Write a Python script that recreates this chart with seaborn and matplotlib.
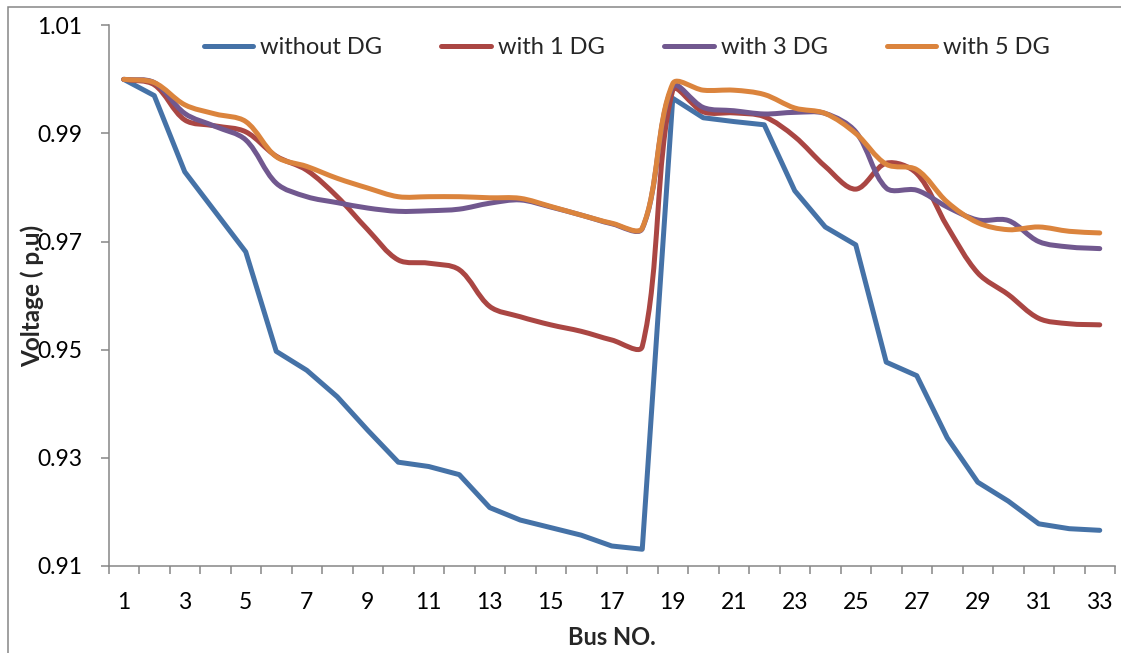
import numpy as np
import pandas as pd
import matplotlib
matplotlib.use("Agg")
import matplotlib.pyplot as plt
from matplotlib.path import Path
from matplotlib.patches import PathPatch, Rectangle
from matplotlib.lines import Line2D
from matplotlib.ticker import FixedLocator, FormatStrFormatter
import seaborn as sns

# Bus voltage profile of the 33-bus feeder (p.u.)
buses = list(range(1, 34))
without_dg = [1.0000, 0.9970, 0.9829, 0.9755, 0.9681, 0.9497, 0.9462, 0.9413, 0.9351,
              0.9292, 0.9284, 0.9269, 0.9208, 0.9185, 0.9171, 0.9157, 0.9137, 0.9131,
              0.9965, 0.9929, 0.9922, 0.9916, 0.9794, 0.9727, 0.9694, 0.9477, 0.9452,
              0.9337, 0.9255, 0.9220, 0.9178, 0.9169, 0.9166]
with_1_dg = [1.0000, 0.9990, 0.9925, 0.9914, 0.9903, 0.9858, 0.9832, 0.9783, 0.9722,
             0.9666, 0.9660, 0.9648, 0.9580, 0.9561, 0.9546, 0.9534, 0.9518, 0.9506,
             0.9980, 0.9940, 0.9938, 0.9931, 0.9894, 0.9839, 0.9797, 0.9845, 0.9826,
             0.9728, 0.9642, 0.9602, 0.9558, 0.9548, 0.9546]
with_3_dg = [1.0000, 0.9994, 0.9937, 0.9913, 0.9888, 0.9808, 0.9783, 0.9772, 0.9762,
             0.9756, 0.9757, 0.9760, 0.9771, 0.9777, 0.9764, 0.9749, 0.9733, 0.9724,
             0.9987, 0.9948, 0.9942, 0.9936, 0.9939, 0.9937, 0.9903, 0.9799, 0.9795,
             0.9764, 0.9740, 0.9739, 0.9700, 0.9690, 0.9687]
with_5_dg = [1.0000, 0.9994, 0.9953, 0.9936, 0.9922, 0.9857, 0.9839, 0.9817, 0.9799,
             0.9783, 0.9783, 0.9783, 0.9781, 0.9780, 0.9765, 0.9749, 0.9734, 0.9725,
             0.9992, 0.9980, 0.9980, 0.9972, 0.9947, 0.9937, 0.9900, 0.9843, 0.9833,
             0.9773, 0.9735, 0.9722, 0.9727, 0.9719, 0.9716]

series_names = ["without DG", "with 1 DG", "with 3 DG", "with 5 DG"]
colors = ["#4572A7", "#AA4643", "#71588F", "#DB843D"]
y_ticks = [0.91, 0.93, 0.95, 0.97, 0.99, 1.01]
x_tick_labels = [str(b) for b in buses if b % 2 == 1]

sns.set_theme(style="white")
plt.rcParams["font.family"] = ["Lato", "DejaVu Sans"]

fig = plt.figure(figsize=(11.21, 6.53), dpi=100)
ax = fig.add_axes([108.5 / 1121, 1 - 566 / 653, (1115 - 108.5) / 1121, (566 - 25.3) / 653])
ax.set_xlim(0.5, 33.5)
ax.set_ylim(0.91, 1.01)

LW = 3.6


def smooth_path(xs, ys, axes, t=1 / 3):
    """Bezier path through the points, control arms scaled by chord length
    measured in display space (spreadsheet-style smoothed line)."""
    data = np.column_stack([xs, ys]).astype(float)
    pts = axes.transData.transform(data)
    n = len(pts)
    ctrl_in = np.zeros_like(pts)
    ctrl_out = np.zeros_like(pts)
    for i in range(n):
        p0 = pts[i - 1] if i > 0 else pts[i]
        p1 = pts[i]
        p2 = pts[i + 1] if i + 1 < n else pts[i]
        d01 = np.hypot(*(p1 - p0))
        d12 = np.hypot(*(p2 - p1))
        tot = d01 + d12
        if tot == 0:
            ctrl_in[i] = ctrl_out[i] = p1
            continue
        tangent = p2 - p0
        ctrl_in[i] = p1 - tangent * t * d01 / tot
        ctrl_out[i] = p1 + tangent * t * d12 / tot
    verts = [pts[0]]
    codes = [Path.MOVETO]
    for i in range(n - 1):
        verts += [ctrl_out[i], ctrl_in[i + 1], pts[i + 1]]
        codes += [Path.CURVE4] * 3
    verts = axes.transData.inverted().transform(np.array(verts))
    return Path(verts, codes)


# unsmoothed base case
df = pd.DataFrame({"bus": buses, "voltage": without_dg})
sns.lineplot(data=df, x="bus", y="voltage", color=colors[0], lw=LW, ax=ax,
             legend=False, zorder=3)

# smoothed DG cases
for vals, c, z in zip([with_1_dg, with_3_dg, with_5_dg], colors[1:], [4, 5, 6]):
    ax.add_patch(PathPatch(smooth_path(buses, vals, ax), facecolor="none", edgecolor=c,
                           lw=LW, capstyle="round", joinstyle="round", zorder=z))

ax.set_xlim(0.5, 33.5)
ax.set_ylim(0.91, 1.01)

# axes styling
for s in ["top", "right"]:
    ax.spines[s].set_visible(False)
for s in ["left", "bottom"]:
    ax.spines[s].set_color("#868686")
    ax.spines[s].set_linewidth(1.1)

ax.yaxis.set_major_locator(FixedLocator(y_ticks))
ax.yaxis.set_major_formatter(FormatStrFormatter("%.2f"))
ax.tick_params(axis="y", which="major", direction="out", length=6, width=1.1,
               color="#868686", labelsize=16.5, labelcolor="black", pad=13, left=True)

ax.xaxis.set_major_locator(FixedLocator([b for b in buses if b % 2 == 1]))
ax.set_xticklabels(x_tick_labels)
ax.xaxis.set_minor_locator(FixedLocator(np.arange(0.5, 34, 1.0)))
ax.tick_params(axis="x", which="major", length=0, labelsize=16.5, labelcolor="black", pad=19)
ax.tick_params(axis="x", which="minor", direction="out", length=5.5, width=1.1,
               color="#868686", bottom=True)

ax.set_xlabel("Bus NO.", fontsize=17, fontweight="bold")
ax.xaxis.set_label_coords(0.5, -0.133)
ax.xaxis.label.set_va("center")
ax.set_ylabel("Voltage ( p.u)", fontsize=17.5, fontweight="bold")
ax.yaxis.set_label_coords(-0.076, 0.5)
ax.yaxis.label.set_va("center")

handles = [Line2D([], [], color=c, lw=LW, solid_capstyle="round") for c in colors]
ax.legend(handles, series_names, ncol=4, loc="center", bbox_to_anchor=(0.515, 0.959),
          frameon=False, fontsize=17, handlelength=2.1, handletextpad=0.3,
          columnspacing=2.5, borderpad=0, borderaxespad=0)

# chart area border
fig.patches.append(Rectangle((8 / 1121, -0.05), 1.2, 1 - 7 / 653 + 0.05,
                             transform=fig.transFigure, fill=False,
                             edgecolor="#868686", lw=1.1))

fig.savefig("out.png", dpi=100)
